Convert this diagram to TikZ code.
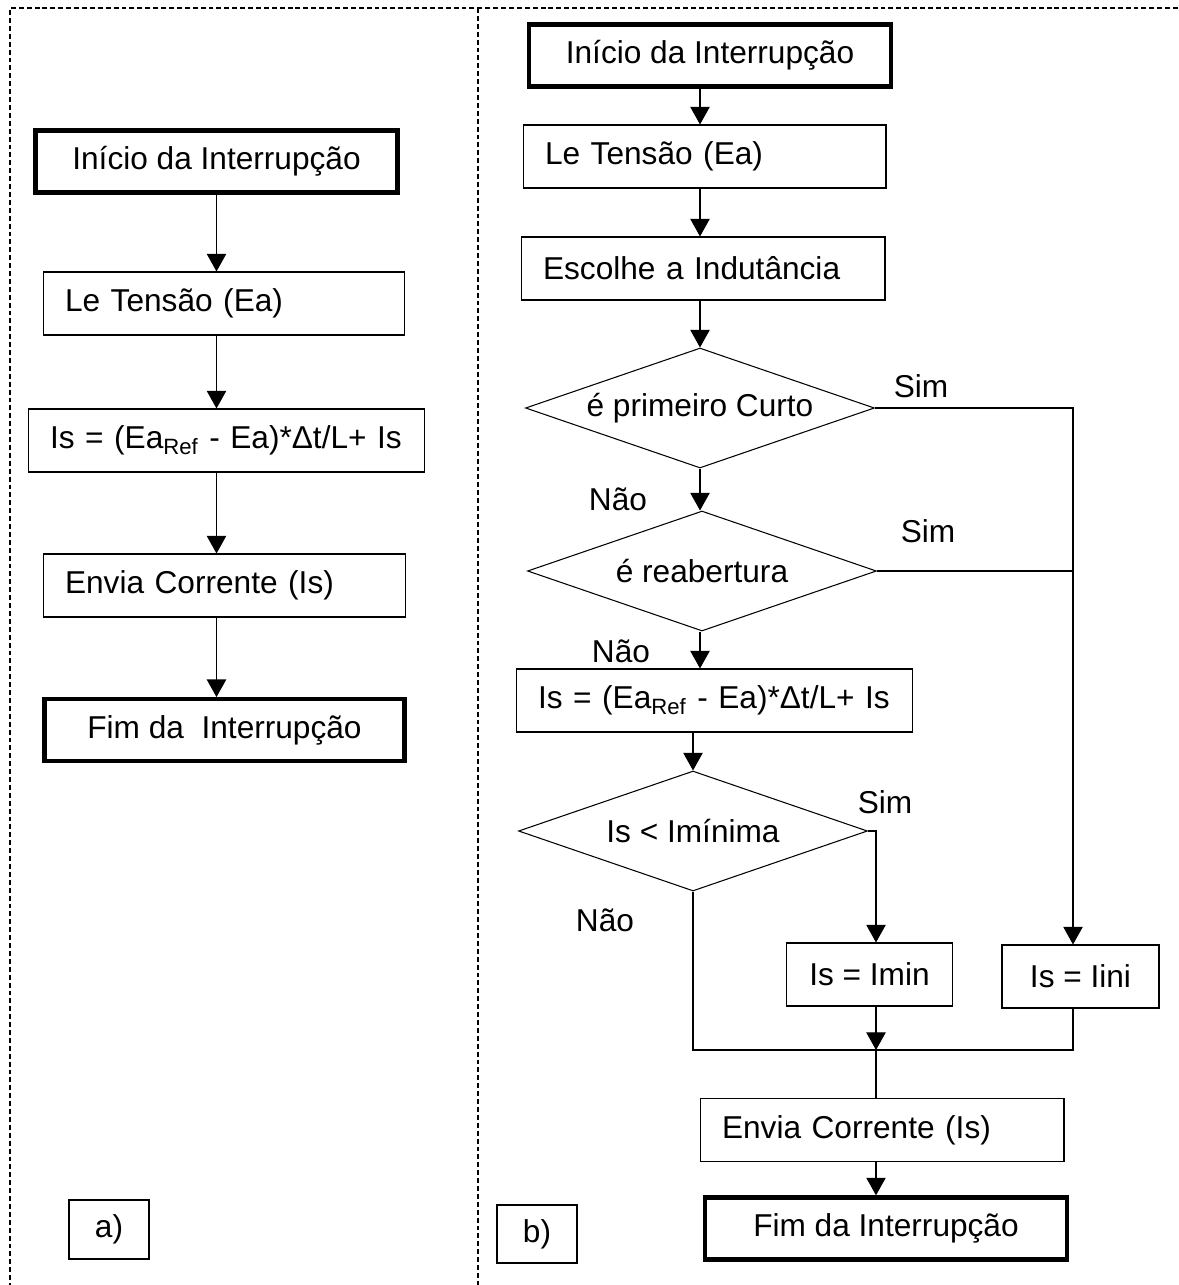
\documentclass[tikz,border=0pt]{standalone}
\usepackage{fontspec}
\setmainfont{Liberation Sans}
\usetikzlibrary{arrows.meta,shapes.geometric}

\begin{document}
\begin{tikzpicture}[x=0.02cm,y=-0.02cm]
	\tikzstyle{every node}+=[font=\fontsize{18}{22}\selectfont]
	\tikzstyle{box}=[draw,line width=0.6pt,minimum height=1.26cm,inner xsep=0.44cm]
	\tikzstyle{lbox}=[box,align=left]
	\tikzstyle{term}=[draw,line width=2.5pt,minimum width=7.24cm,minimum height=1.24cm]
	\tikzstyle{cond}=[draw,diamond,line width=0.6pt,aspect=2.9,inner sep=0pt,minimum width=6.98cm,minimum height=2.4cm]
	\tikzstyle{seta}=[-{Triangle[length=10pt,width=11pt]},line width=0.6pt]
	\tikzstyle{linha}=[line width=0.6pt]
	\tikzstyle{moldura}=[dash pattern=on 2.8pt off 1.7pt,line width=0.6pt]
	\useasboundingbox (0,0) rectangle (1178,1285);
	% moldura tracejada
	\draw[moldura] (1178,8) -- (10,8) -- (10,1285);
	\draw[moldura] (478,8) -- (478,1285);
	% a) fluxo simples
	\node[term] (ini_a) at (216.5,161.5) {Início da Interrupção};
	\node[lbox,text width=6.36cm] (le_a) at (224,303.5) {Le Tensão (Ea)};
	\node[lbox,text width=7.06cm] (is_a) at (226.5,440.5) {Is = (Ea\textsubscript{Ref} - Ea)*Δt/L+ Is};
	\node[lbox,text width=6.38cm] (env_a) at (224.5,585.5) {Envia Corrente (Is)};
	\node[term,minimum width=7.2cm,minimum height=1.23cm] (fim_a) at (224.5,730) {Fim da~ Interrupção};
	\node[box,minimum width=1.6cm,minimum height=1.18cm] (lbl_a) at (109,1229.5) {a)};
	\foreach \a/\b in {ini_a/le_a,le_a/is_a,is_a/env_a,env_a/fim_a}
		\draw[seta] (ini_a.south |- \a.south) -- (ini_a.south |- \b.north);
	% b) fluxo com escolha da indutancia
	\node[term] (ini_b) at (710,55.5) {Início da Interrupção};
	\node[lbox,text width=6.38cm] (le_b) at (704.5,156.5) {Le Tensão (Ea)};
	\node[lbox,text width=6.40cm] (esc_b) at (703,268.5) {Escolhe a Indutância};
	\node[cond] (d1) at (700,408) {é primeiro Curto};
	\node[cond] (d2) at (702,571) {é reabertura};
	\node[lbox,text width=7.06cm] (is_b) at (714.5,700.5) {Is = (Ea\textsubscript{Ref} - Ea)*Δt/L+ Is};
	\node[cond] (d3) at (693,831) {Is < Imínima};
	\node[box,minimum width=3.32cm] (imin) at (869.5,974.5) {Is = Imin};
	\node[box,minimum width=3.14cm] (iini) at (1080.5,976.5) {Is = Iini};
	\node[lbox,text width=6.40cm] (env_b) at (882,1130) {Envia Corrente (Is)};
	\node[term] (fim_b) at (886,1228.5) {Fim da Interrupção};
	\node[box,minimum width=1.6cm,minimum height=1.16cm] (lbl_b) at (537,1234) {b)};
	\node (sim1) at (921,386) {Sim};
	\node (nao1) at (618,499) {Não};
	\node (sim2) at (928,531) {Sim};
	\node (nao2) at (621,651) {Não};
	\node (sim3) at (885,802) {Sim};
	\node (nao3) at (605,920) {Não};
	\coordinate (trilho) at (1073,411);
	\coordinate (junta) at (876,1050);
	\foreach \a/\b in {ini_b/le_b,le_b/esc_b,esc_b/d1,d1/d2,d2/is_b}
		\draw[seta] (d1.south |- \a.south) -- (d1.south |- \b.north);
	\draw[seta] (d3.north |- is_b.south) -- (d3.north);
	% ramos Sim
	\draw[seta] (d1.east) -- (d1.east -| trilho) -- (trilho |- iini.north);
	\draw[linha] (d2.east) -- (d2.east -| trilho);
	\draw[seta] (d3.east) -- (d3.east -| junta) -- (junta |- imin.north);
	% ramo Nao e juncao
	\draw[linha] (d3.south) -- (d3.south |- junta) -- (trilho |- junta) -- (trilho |- iini.south);
	\draw[seta] (junta |- imin.south) -- (junta);
	\draw[linha] (junta) -- (junta |- env_b.north);
	\draw[seta] (junta |- env_b.south) -- (junta |- fim_b.north);
\end{tikzpicture}
\end{document}
